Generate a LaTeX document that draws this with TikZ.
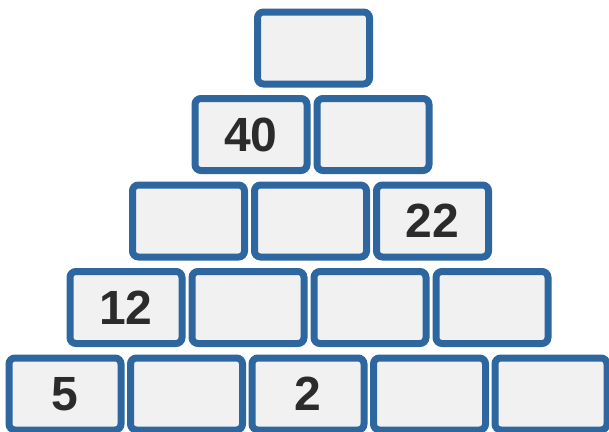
\documentclass[tikz,border=0pt]{standalone}
\usepackage{fontspec}
\setmainfont{Liberation Sans}
\usepackage{tikz}
\definecolor{brickblue}{HTML}{2E67A0}
\definecolor{brickfill}{HTML}{F1F1F1}
\definecolor{digitgray}{HTML}{2B2B2B}

\begin{document}
\begin{tikzpicture}[x=1pt,y=-1pt,
  brick/.style={draw=brickblue,line width=7pt,rounded corners=6pt,fill=brickfill,
    minimum width=112pt,minimum height=72pt,inner sep=0pt,
    text=digitgray,font=\fontsize{48}{48}\selectfont\bfseries}]
\useasboundingbox (0,0) rectangle (609,431);

% top
\node[brick] (b00) at (313.5,48) {};

% second row
\node[brick] (b10) at (251,134.5) {40};
\node[brick] (b11) at (373,134.5) {};

% third row
\node[brick] (b20) at (188.5,221) {};
\node[brick] (b21) at (310.5,221) {};
\node[brick] (b22) at (432.5,221) {22};

% fourth row
\node[brick] (b30) at (126,307.5) {12};
\node[brick] (b31) at (248,307.5) {};
\node[brick] (b32) at (370,307.5) {};
\node[brick] (b33) at (492,307.5) {};

% bottom row
\node[brick] (b40) at (65,394) {5};
\node[brick] (b41) at (186.5,394) {};
\node[brick] (b42) at (308,394) {2};
\node[brick] (b43) at (429.5,394) {};
\node[brick] (b44) at (551,394) {};

\end{tikzpicture}
\end{document}
